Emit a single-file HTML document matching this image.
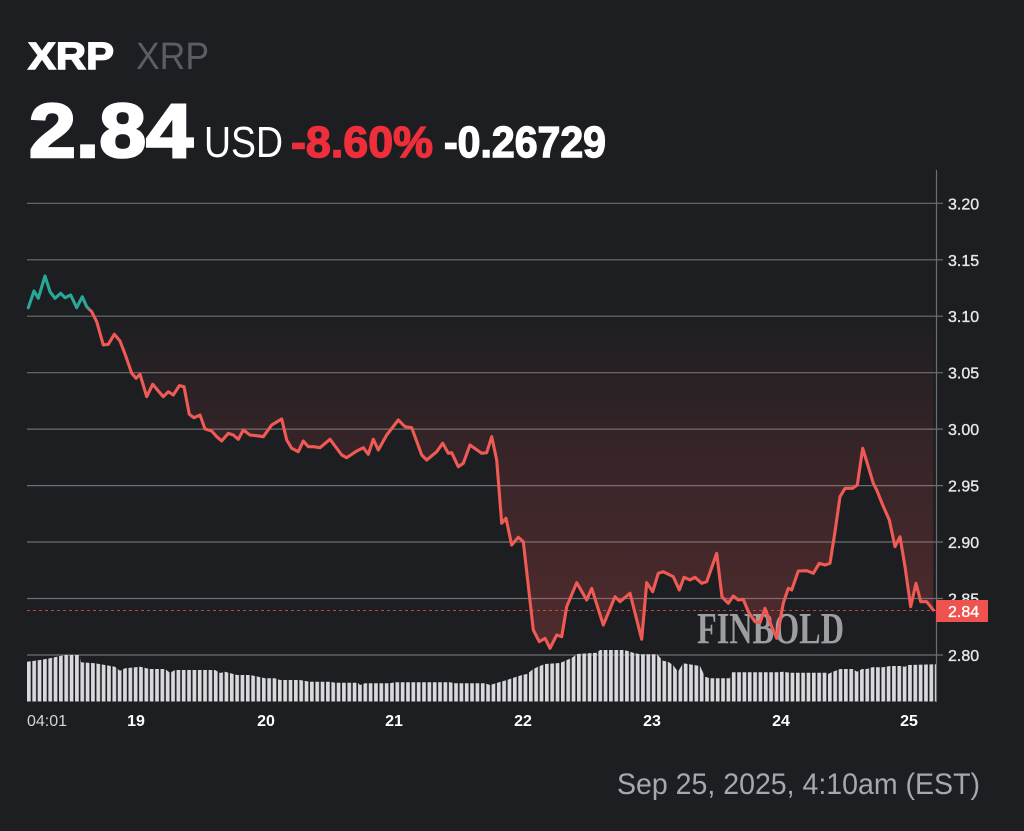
<!DOCTYPE html>
<html>
<head>
<meta charset="utf-8">
<style>
  html,body{margin:0;padding:0;background:#1c1e22;}
  svg{display:block;}
  text{font-family:"Liberation Sans",Arial,sans-serif;}
</style>
</head>
<body>
<svg width="1024" height="831" viewBox="0 0 1024 831" xmlns="http://www.w3.org/2000/svg">
  <defs>
    <linearGradient id="redfill" gradientUnits="userSpaceOnUse" x1="0" y1="309" x2="0" y2="650">
      <stop offset="0" stop-color="#ef5350" stop-opacity="0.0"/>
      <stop offset="0.4" stop-color="#ef5350" stop-opacity="0.12"/>
      <stop offset="1" stop-color="#ef5350" stop-opacity="0.25"/>
    </linearGradient>
    <clipPath id="below"><rect x="0" y="309" width="1024" height="400"/></clipPath>
    <clipPath id="above"><rect x="0" y="0" width="1024" height="309"/></clipPath>
    <pattern id="bars" patternUnits="userSpaceOnUse" x="27" y="0" width="5.34" height="831">
      <rect x="0" y="0" width="3.7" height="831" fill="#d8d8dd"/>
    </pattern>
  </defs>

  <rect x="0" y="0" width="1024" height="831" fill="#1c1e22"/>

  <!-- Header -->
  <text x="28" y="69" font-size="38" font-weight="bold" fill="#ffffff" stroke="#ffffff" stroke-width="1.4" textLength="86" lengthAdjust="spacingAndGlyphs">XRP</text>
  <text x="136" y="69" font-size="38" fill="#5a5d63" textLength="73" lengthAdjust="spacingAndGlyphs">XRP</text>
  <text x="29" y="157" font-size="76" font-weight="bold" fill="#ffffff" stroke="#ffffff" stroke-width="2.6" textLength="164" lengthAdjust="spacingAndGlyphs">2.84</text>
  <text x="204" y="157" font-size="44" fill="#ffffff" textLength="79" lengthAdjust="spacingAndGlyphs">USD</text>
  <text x="291" y="157" font-size="44" font-weight="bold" fill="#ee2f3b" stroke="#ee2f3b" stroke-width="1.4" textLength="142" lengthAdjust="spacingAndGlyphs">-8.60%</text>
  <text x="444" y="157" font-size="44" font-weight="bold" fill="#ffffff" stroke="#ffffff" stroke-width="1.4" textLength="162" lengthAdjust="spacingAndGlyphs">-0.26729</text>

  <!-- Gridlines -->
  <g stroke="#6c6e73" stroke-width="1.2">
    <line x1="27" y1="203.3" x2="943" y2="203.3"/>
    <line x1="27" y1="259.8" x2="943" y2="259.8"/>
    <line x1="27" y1="316.2" x2="943" y2="316.2"/>
    <line x1="27" y1="372.7" x2="943" y2="372.7"/>
    <line x1="27" y1="429.1" x2="943" y2="429.1"/>
    <line x1="27" y1="485.6" x2="943" y2="485.6"/>
    <line x1="27" y1="542" x2="943" y2="542"/>
    <line x1="27" y1="598.5" x2="943" y2="598.5"/>
    <line x1="27" y1="655" x2="943" y2="655"/>
  </g>

  <!-- Volume bars -->
  <polygon fill="url(#bars)" points="27,661.7 40,660 50,658.3 60,656 65,655 80,655 81,662.3 95,663.3 105,665 115,666.7 120,670.7 125,668.3 140,666.7 150,669 165,669 170,672.7 175,670 215,670 220,673 225,671.7 237,675 250,675 255,676 265,678.3 275,678.3 280,680 300,680 310,681.7 330,681.7 335,682.7 358,682.7 360,685 365,683.3 390,683.3 395,682.3 450,682.3 455,683.3 485,683.3 490,685 500,682 507,680 512,678.3 522,675 527,674 533,669.3 538,666.7 545,664 560,663 567,660 572,657.7 577,654 597,652.7 600,650 623,650 627,650.7 633,652.7 640,654.3 657,654.3 663,660.7 668,661.7 673,665 678,671.7 683,663.3 700,666 705,676.7 710,678.3 730,678.3 732,672.3 777,672.3 783,671.7 790,672.7 827,672.7 828,674 833,671.7 840,669 853,669 857,671.7 862,669 867,669 872,667.3 883,667.3 890,666 900,666 905,666.7 908,665 936,664.3 936,701.5 27,701.5"/>

  <!-- Red fill area -->
  <path clip-path="url(#below)" fill="url(#redfill)" d="M28.3,307.7 L34,291 L38.3,298.3 L45,276 L50,291.7 L55,298.3 L60.7,293.3 L65,297.7 L70.7,295 L76.7,307.7 L82.3,296.7 L86.7,306.7 L91.7,311.7 L96.7,321.7 L103.3,345 L108.3,344.3 L114.3,334.3 L120,341 L126,356.7 L131.7,373.3 L136,378.3 L140,374.3 L146.7,396.7 L152.7,384.3 L158.3,391 L163.3,396.7 L168.3,391.7 L173.3,395 L179.3,385.7 L184,386.7 L189.3,414.3 L194,417.7 L200,415 L205,429 L211.7,431 L216.7,436.7 L221.7,441 L228.3,433.3 L233.3,435 L238.3,439.3 L243.3,430 L250,435 L256.7,435.7 L263.3,436.7 L271.7,425 L281.7,419 L286.7,440 L291.7,448.3 L298.3,451.7 L303.3,441 L308.3,446.7 L313.3,446.7 L320,447.7 L330,439.3 L341.7,455 L346.7,457.7 L356.7,451 L363.3,447.7 L368.3,454.3 L373.3,439.3 L378.3,450 L386.7,435 L398.3,420 L405,426.7 L411.7,427.7 L421.7,455 L426.7,460 L436.7,451.7 L442.7,443.3 L448.3,453.3 L451.7,452.7 L458.3,466.7 L463.3,463.3 L470,445 L481.7,453.3 L486.7,452.7 L491.7,436.7 L496.7,460 L501.7,523.3 L506,518.3 L511.7,545 L518.3,537.3 L523.3,541.7 L533.3,630 L539.3,641.7 L545,638.3 L550,648.3 L556.7,635 L561.7,636.7 L566.7,606.7 L576.7,582.7 L586.7,600 L591.7,588.3 L603.3,625 L615,596.7 L620,601.7 L630,593.3 L641.7,639.3 L646.7,582.7 L652.7,591.7 L658.3,573.3 L663.3,571.7 L673.3,576.7 L679.3,590 L684,577.3 L690,580 L695,577.3 L701.7,583.3 L706.7,581.7 L716.7,553.3 L722,597 L728.3,603.3 L733.3,596 L738.3,600 L743.3,599.3 L748.3,611.7 L755,621.7 L760,622.7 L765,608.3 L771.7,626.7 L776.7,638.3 L783.3,603.3 L788.3,588.3 L791.7,590 L798.3,571 L806.7,570.7 L813.3,573.3 L819.3,563.3 L825,565 L830,563.3 L835,531.7 L840,496.7 L845,488.3 L852.7,488.3 L857.3,485 L862.7,448.3 L868.3,466.7 L873.3,483.3 L876.7,490 L882.7,505 L889.3,520 L895,546.7 L900,536.7 L905,566.7 L910.7,606.7 L916,583.3 L920.7,601.7 L926.7,601.7 L933.3,610 L933.3,309 L28.3,309 Z"/>

  <!-- Current price dashed line -->
  <line x1="27" y1="610.5" x2="936" y2="610.5" stroke="#ef5350" stroke-opacity="0.75" stroke-width="1" stroke-dasharray="3 3"/>

  <!-- Watermark -->
  <text x="697" y="643" font-size="44" font-weight="bold" fill="#b4b4b8" fill-opacity="0.85" textLength="147" lengthAdjust="spacingAndGlyphs" style="font-family:'Liberation Serif',serif">FINBOLD</text>

  <!-- Price line (teal above baseline, red below) -->
  <g fill="none" stroke-width="3.1" stroke-linejoin="round" stroke-linecap="round">
    <path clip-path="url(#above)" stroke="#2aa897" d="M28.3,307.7 L34,291 L38.3,298.3 L45,276 L50,291.7 L55,298.3 L60.7,293.3 L65,297.7 L70.7,295 L76.7,307.7 L82.3,296.7 L86.7,306.7 L91.7,311.7 L96.7,321.7"/>
    <path clip-path="url(#below)" stroke="#f05a55" d="M28.3,307.7 L34,291 L38.3,298.3 L45,276 L50,291.7 L55,298.3 L60.7,293.3 L65,297.7 L70.7,295 L76.7,307.7 L82.3,296.7 L86.7,306.7 L91.7,311.7 L96.7,321.7 L103.3,345 L108.3,344.3 L114.3,334.3 L120,341 L126,356.7 L131.7,373.3 L136,378.3 L140,374.3 L146.7,396.7 L152.7,384.3 L158.3,391 L163.3,396.7 L168.3,391.7 L173.3,395 L179.3,385.7 L184,386.7 L189.3,414.3 L194,417.7 L200,415 L205,429 L211.7,431 L216.7,436.7 L221.7,441 L228.3,433.3 L233.3,435 L238.3,439.3 L243.3,430 L250,435 L256.7,435.7 L263.3,436.7 L271.7,425 L281.7,419 L286.7,440 L291.7,448.3 L298.3,451.7 L303.3,441 L308.3,446.7 L313.3,446.7 L320,447.7 L330,439.3 L341.7,455 L346.7,457.7 L356.7,451 L363.3,447.7 L368.3,454.3 L373.3,439.3 L378.3,450 L386.7,435 L398.3,420 L405,426.7 L411.7,427.7 L421.7,455 L426.7,460 L436.7,451.7 L442.7,443.3 L448.3,453.3 L451.7,452.7 L458.3,466.7 L463.3,463.3 L470,445 L481.7,453.3 L486.7,452.7 L491.7,436.7 L496.7,460 L501.7,523.3 L506,518.3 L511.7,545 L518.3,537.3 L523.3,541.7 L533.3,630 L539.3,641.7 L545,638.3 L550,648.3 L556.7,635 L561.7,636.7 L566.7,606.7 L576.7,582.7 L586.7,600 L591.7,588.3 L603.3,625 L615,596.7 L620,601.7 L630,593.3 L641.7,639.3 L646.7,582.7 L652.7,591.7 L658.3,573.3 L663.3,571.7 L673.3,576.7 L679.3,590 L684,577.3 L690,580 L695,577.3 L701.7,583.3 L706.7,581.7 L716.7,553.3 L722,597 L728.3,603.3 L733.3,596 L738.3,600 L743.3,599.3 L748.3,611.7 L755,621.7 L760,622.7 L765,608.3 L771.7,626.7 L776.7,638.3 L783.3,603.3 L788.3,588.3 L791.7,590 L798.3,571 L806.7,570.7 L813.3,573.3 L819.3,563.3 L825,565 L830,563.3 L835,531.7 L840,496.7 L845,488.3 L852.7,488.3 L857.3,485 L862.7,448.3 L868.3,466.7 L873.3,483.3 L876.7,490 L882.7,505 L889.3,520 L895,546.7 L900,536.7 L905,566.7 L910.7,606.7 L916,583.3 L920.7,601.7 L926.7,601.7 L933.3,610"/>
  </g>

  <!-- Y axis -->
  <line x1="936.5" y1="170" x2="936.5" y2="702" stroke="#6c6e73" stroke-width="1.2"/>
  <g font-size="16" fill="#e8e8ea" stroke="#e8e8ea" stroke-width="0.35">
    <text x="948" y="209.3">3.20</text>
    <text x="948" y="265.8">3.15</text>
    <text x="948" y="322.2">3.10</text>
    <text x="948" y="378.7">3.05</text>
    <text x="948" y="435.1">3.00</text>
    <text x="948" y="491.6">2.95</text>
    <text x="948" y="548">2.90</text>
    <text x="948" y="604.5">2.85</text>
    <text x="948" y="661">2.80</text>
  </g>
  <rect x="936" y="600" width="52" height="22" fill="#ef5350"/>
  <text x="948" y="617" font-size="16" fill="#ffffff" stroke="#ffffff" stroke-width="0.35">2.84</text>

  <!-- X axis labels -->
  <text x="27" y="726" font-size="16" fill="#d4d4d8">04:01</text>
  <g font-size="16" font-weight="bold" fill="#ffffff" text-anchor="middle">
    <text x="136" y="726">19</text>
    <text x="266" y="726">20</text>
    <text x="394" y="726">21</text>
    <text x="523" y="726">22</text>
    <text x="652" y="726">23</text>
    <text x="781" y="726">24</text>
    <text x="909" y="726">25</text>
  </g>

  <!-- Footer -->
  <text x="617" y="794" font-size="30" fill="#a6a8ad" textLength="363" lengthAdjust="spacingAndGlyphs">Sep 25, 2025, 4:10am (EST)</text>
</svg>
</body>
</html>
